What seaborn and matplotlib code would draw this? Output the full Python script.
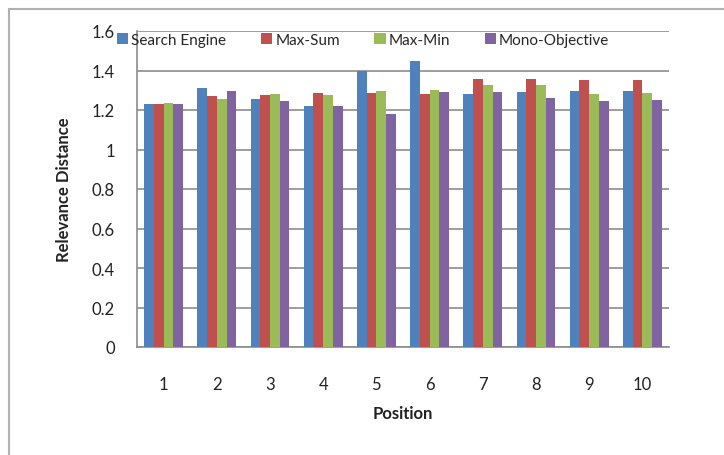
import matplotlib
matplotlib.use("Agg")
import matplotlib.pyplot as plt
import seaborn as sns
import pandas as pd
from matplotlib.patches import Rectangle

positions = ["1", "2", "3", "4", "5", "6", "7", "8", "9", "10"]
search_engine = [1.228, 1.310, 1.258, 1.220, 1.400, 1.450, 1.282, 1.290, 1.296, 1.295]
max_sum = [1.232, 1.272, 1.277, 1.287, 1.285, 1.282, 1.356, 1.356, 1.352, 1.350]
max_min = [1.235, 1.255, 1.283, 1.276, 1.295, 1.302, 1.327, 1.327, 1.282, 1.287]
mono_objective = [1.232, 1.295, 1.248, 1.220, 1.180, 1.290, 1.292, 1.262, 1.245, 1.252]
series_names = ["Search Engine", "Max-Sum", "Max-Min", "Mono-Objective"]
colors = ["#4F81BD", "#C0504D", "#9BBB59", "#8064A2"]
yticks = [0, 0.2, 0.4, 0.6, 0.8, 1, 1.2, 1.4, 1.6]
ytick_labels = ["0", "0.2", "0.4", "0.6", "0.8", "1", "1.2", "1.4", "1.6"]

rows = []
for name, vals in zip(series_names, [search_engine, max_sum, max_min, mono_objective]):
    for p, v in zip(positions, vals):
        rows.append({"Position": p, "Series": name, "Value": v})
df = pd.DataFrame(rows)

sns.set_style("white")
plt.rcParams["font.family"] = ["Lato", "DejaVu Sans"]

fig = plt.figure(figsize=(7.24, 4.56), dpi=100)
ax = fig.add_axes([137/724, 1-348/456, (669-137)/724, (348-32)/456])

sns.barplot(data=df, x="Position", y="Value", hue="Series", order=positions,
            hue_order=series_names, palette=colors, width=0.73, gap=0,
            saturation=1, ax=ax, legend=False, edgecolor="none", linewidth=0, zorder=3)

ax.set_ylim(0, 1.6)
ax.set_xlim(-0.5, 9.5)
ax.set_yticks(yticks)
ax.set_yticklabels(ytick_labels, fontsize=12)
ax.yaxis.grid(True, color="#8c8c8c", linewidth=1.2, zorder=0)
ax.set_axisbelow(True)
for s in ["top", "right"]:
    ax.spines[s].set_visible(False)
for s in ["left", "bottom"]:
    ax.spines[s].set_color("#8c8c8c")
    ax.spines[s].set_linewidth(1.2)
ax.tick_params(axis="y", which="major", length=8, color="#8c8c8c", width=1.2, pad=8, labelcolor="#222222")
ax.set_xticks(range(10))
ax.set_xticklabels(positions, fontsize=12)
ax.set_xticks([i - 0.5 for i in range(11)], minor=True)
ax.tick_params(axis="x", which="major", length=0, pad=21, labelcolor="#222222")
ax.tick_params(axis="x", which="minor", length=7, color="#8c8c8c", width=1.2)

ax.set_xlabel("Position", fontsize=12, fontweight="bold", labelpad=9, color="#222222")
ax.set_ylabel("Relevance Distance", fontsize=12, fontweight="bold", labelpad=14, color="#222222")

handles = [Rectangle((0, 0), 1, 1, facecolor=c, edgecolor="none") for c in colors]
fig.legend(handles, series_names, loc="center", bbox_to_anchor=(363/724, 1-41/456),
           ncol=4, frameon=False, fontsize=11, handlelength=0.75, handleheight=0.75,
           handletextpad=0.2, columnspacing=2.25, borderaxespad=0)

fig.patches.append(Rectangle((9/724, -0.1), 1.2, 1-10/456+0.1, transform=fig.transFigure,
                             fill=False, edgecolor="#b0b0b0", linewidth=1.5, zorder=0))

fig.savefig("out.png", dpi=100)
